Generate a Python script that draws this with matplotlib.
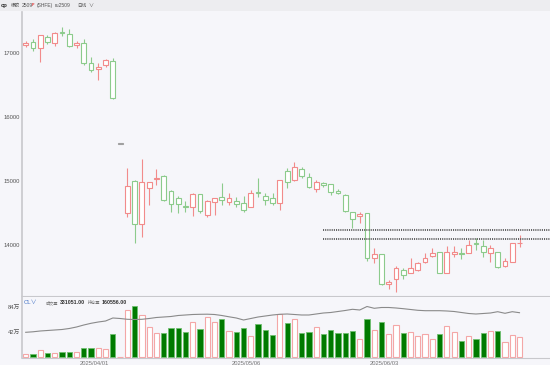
import matplotlib
matplotlib.use("Agg")
import matplotlib.pyplot as plt
import numpy as np
from matplotlib.patches import Rectangle

plt.rcParams['font.family'] = ['Liberation Sans', 'Noto Sans CJK SC', 'DejaVu Sans']

# 日线数据 ru2509
opens = [17125, 17167, 17073, 17255, 17152, 17320, 17297, 17120, 17152, 16840,
         16745, 16812, 16880, 15578, 14495, 15000, 14323, 14886, 15030, 15078,
         14848, 14730, 14610, 14590, 14797, 14469, 14667, 14750, 14667, 14687,
         14650, 14600, 14833, 14770, 14740, 14650, 15160, 15016, 15187, 15067,
         14875, 14964, 14948, 14848, 14780, 14510, 14458, 14495, 13792, 13860,
         13386, 13464, 13610, 13567, 13610, 13730, 13828, 13886, 13567, 13860,
         13870, 13880, 14030, 13984, 13870, 13896, 13677, 13730, 14030]
highs = [17183, 17214, 17285, 17281, 17333, 17411, 17370, 17192, 17214, 16933,
         16840, 16906, 16917, 15578, 15208, 15010, 15339, 14990, 15183, 15094,
         14860, 14766, 14692, 14817, 14797, 14703, 14740, 14973, 14817, 14755,
         14770, 14860, 15052, 14817, 14808, 15016, 15198, 15300, 15223, 15120,
         15016, 14980, 14948, 14875, 14792, 14520, 14520, 14495, 13948, 13860,
         13453, 13672, 13636, 13792, 13740, 13870, 13948, 13896, 13984, 13984,
         13948, 14078, 14114, 14078, 14000, 13896, 13792, 14027, 14156]
lows = [17094, 17031, 16864, 17136, 17109, 17270, 17089, 17073, 16812, 16700,
        16578, 16786, 16280, 15578, 14442, 14027, 14130, 14625, 14937, 14687,
        14520, 14505, 14520, 14453, 14505, 14433, 14469, 14625, 14625, 14600,
        14520, 14590, 14755, 14625, 14625, 14547, 14886, 15005, 15042, 14886,
        14823, 14911, 14780, 14797, 14520, 14270, 14339, 13750, 13714, 13375,
        13308, 13270, 13464, 13558, 13600, 13714, 13808, 13558, 13558, 13817,
        13776, 13870, 13922, 13817, 13740, 13636, 13661, 13730, 13964]
closes = [17152, 17073, 17281, 17167, 17317, 17310, 17109, 17150, 16848, 16734,
          16786, 16890, 16292, 15578, 14927, 14323, 14980, 14980, 15050, 14703,
          14636, 14636, 14595, 14797, 14531, 14692, 14740, 14708, 14730, 14640,
          14547, 14817, 14808, 14703, 14650, 15016, 14990, 15223, 15083, 14900,
          14990, 14937, 14823, 14808, 14531, 14400, 14484, 13792, 13860, 13386,
          13427, 13636, 13531, 13636, 13714, 13792, 13870, 13567, 13886, 13896,
          13860, 14000, 14020, 13896, 13948, 13652, 13755, 14027, 14036]
# 成交量（万手）
volume_wan = [5, 4.5, 11.8, 6, 6, 8, 8, 8, 14.6, 14.6,
              14.6, 14, 38, 0.5, 79, 85.7, 70.6, 50, 41, 41,
              49, 48, 42, 59, 46.5, 66.7, 58, 63, 44, 42.5,
              49, 35, 55, 45, 37, 72, 56.6, 63, 41, 42,
              51, 38.6, 45, 41, 41, 44, 30.8, 63.8, 44.8, 58,
              39, 54, 39.8, 42.5, 35.8, 38, 29.7, 38, 52, 41.4,
              27, 34.8, 29.7, 39.8, 43, 44, 25.7, 37, 33.1051]
# 持仓量
open_interest = [89500, 91350, 94250, 96060, 97875, 99690, 103310, 108750, 116000, 122160,
                 126875, 130500, 141375, 139560, 136660, 135940, 136660, 139560, 143190, 145000,
                 146810, 150440, 152250, 154060, 154790, 155150, 154060, 150440, 145730, 141375,
                 134125, 139560, 145000, 148630, 152250, 154790, 155875, 154060, 152250, 152250,
                 155875, 159500, 161310, 164940, 168560, 172910, 170375, 183060, 176540, 179440,
                 179440, 177625, 175090, 172190, 169290, 167840, 167840, 167840, 166750, 164940,
                 161310, 157690, 155875, 157690, 159500, 164210, 158410, 164210, 160556]
date_idx = [10, 31, 50]
date_labels = ["2025/04/01", "2025/05/06", "2025/06/03"]
price_ticks = [14000, 15000, 16000, 17000]
vol_ticks = [420000, 840000]
vol_tick_labels = ["42万", "84万"]
level_lines = [14234, 14094]
level_start = 41

RED = '#f28b8b'
GREEN = '#8ccb8c'
GRAY = '#a0a0a0'
BG = '#f6f6fa'

o = np.array(opens); h = np.array(highs); l = np.array(lows); c = np.array(closes)
vol = np.array(volume_wan) * 10000
oi = np.array(open_interest)
x = np.arange(len(o))

fig = plt.figure(figsize=(5.5, 3.65), dpi=100, facecolor=BG)
fig.patches.append(Rectangle((0, 1 - 11 / 365), 1, 11 / 365, transform=fig.transFigure,
                             facecolor='#ededf0', edgecolor='none', zorder=0))

ax = fig.add_axes([22 / 550, 1 - 296 / 365, 528 / 550, 284 / 365])
axv = fig.add_axes([22 / 550, 1 - 358 / 365, 528 / 550, 61 / 365])
for a in (ax, axv):
    a.set_facecolor(BG)
    a.spines['top'].set_visible(False)
    a.spines['right'].set_visible(False)
    a.spines['left'].set_color('#c8c8cc')
    a.spines['bottom'].set_color('#c8c8cc')
    a.spines['left'].set_linewidth(1.2)
    a.set_xlim(-0.51, 72.2)
    a.tick_params(length=0, labelsize=4.2, colors='#555555', pad=1.5)

# K线
cols = []
for i in range(len(x)):
    if c[i] > o[i]:
        cols.append(RED)
    elif c[i] < o[i]:
        cols.append(GREEN)
    else:
        cols.append(GRAY)
ax.vlines(x, l, h, colors=cols, linewidth=0.8, zorder=2)
body_lo = np.minimum(o, c)
body_h = np.maximum(np.abs(c - o), 8)
ax.bar(x, body_h, bottom=body_lo, width=0.66, facecolor='white', edgecolor=cols,
       linewidth=0.8, zorder=3)

for lv in level_lines:
    ax.hlines(lv, level_start, 72.2, colors='#555555', linestyles=(0, (0.6, 0.6)),
              linewidth=1.3, zorder=4)

ax.set_ylim(13203, 17640)
ax.set_yticks(price_ticks)
ax.set_yticklabels([str(t) for t in price_ticks])
ax.set_xticks([])

# 成交量
up = c >= o
axv.bar(x[up], vol[up], width=0.72, facecolor='white', edgecolor='#f4a7a7', linewidth=0.8, zorder=2)
axv.bar(x[~up], vol[~up], width=0.72, facecolor='#007a00', edgecolor='#6fbf6f', linewidth=0.6, zorder=2)
axv.set_ylim(-17000, 1008000)
axv.set_yticks(vol_ticks)
axv.set_yticklabels(vol_tick_labels)
axv.set_xticks([d - 0.55 for d in date_idx])
axv.set_xticklabels(date_labels)
axv.tick_params(axis='x', labelsize=4.2, colors='#777777', pad=2)

axo = axv.twinx()
axo.plot(x, oi, color='#8a8a8a', linewidth=0.8, zorder=3)
axo.set_ylim(-17000 * 0.3625 / 1.68, 1008000 * 0.3625 / 1.68)
axo.set_xlim(-0.51, 72.2)
axo.axis('off')


# 标题文字：按顺序排开，避免重叠
def put(px, py, s, **kw):
    fig.text(px / 550, 1 - py / 365, s, va='center', **kw)


put(1, 5.5, "cp", fontsize=4.2, color='#333333', weight='bold')
put(11, 5.5, "橡胶", fontsize=3.3, color='#555555')
put(22, 5.5, "2509", fontsize=3.6, color='#555555')
put(32, 4.5, "P", fontsize=2.6, color='#e03030', weight='bold')
put(37, 5.5, "(SHFE)", fontsize=3.6, color='#555555')
put(55, 5.5, "ru2509", fontsize=3.6, color='#555555')
put(77, 5.5, "日线", fontsize=3.3, color='#555555')
put(88, 5.5, "∨", fontsize=3.6, color='#555555')

put(24, 302.5, "CL∨", fontsize=4.3, color='#4a78c8')
put(46, 302.5, "成交量", fontsize=3.0, color='#777777')
put(60, 302.5, "331051.00", fontsize=3.8, color='#333333', weight='bold')
put(88, 302.5, "持仓量", fontsize=3.0, color='#777777')
put(102, 302.5, "160556.00", fontsize=3.8, color='#333333', weight='bold')

fig.savefig("out.png", dpi=100, facecolor=BG)
